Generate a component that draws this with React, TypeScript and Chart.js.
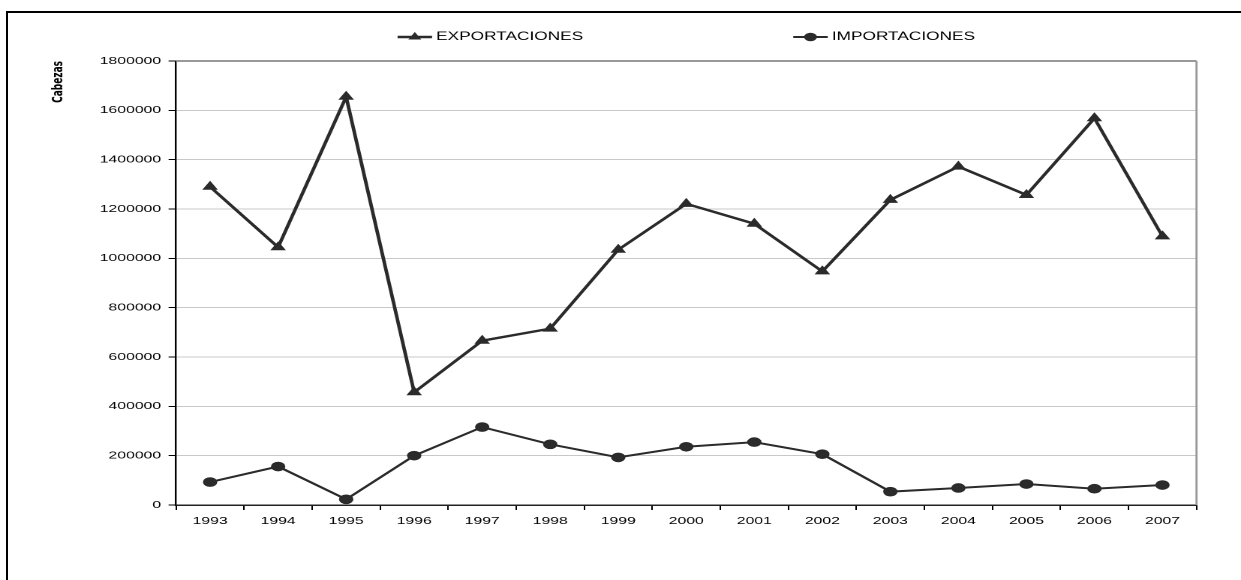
import React, { useEffect, useRef } from 'react';
import { Chart, registerables } from 'chart.js';

Chart.register(...registerables);

// ---------- data ----------
const years = ['1993', '1994', '1995', '1996', '1997', '1998', '1999', '2000', '2001', '2002', '2003', '2004', '2005', '2006', '2007'];
const exportaciones = [1290000, 1045000, 1655000, 457000, 666000, 715000, 1035000, 1221000, 1140000, 947000, 1237000, 1372000, 1257000, 1568000, 1089000];
const importaciones = [93000, 156000, 23000, 200000, 316000, 246000, 193000, 236000, 255000, 206000, 54000, 69000, 85000, 66000, 81000];
const seriesLabels = ['EXPORTACIONES', 'IMPORTACIONES'];
const yAxisTitle = 'Cabezas';
const yMin = 0;
const yMax = 1800000;
const yStep = 200000;

// ---------- geometry (the reference is stretched horizontally ~1.5x) ----------
const PAGE_W = 1241;
const PAGE_H = 580;
const STRETCH = 1.5;
const W = Math.round(PAGE_W / STRETCH); // logical canvas width
const H = PAGE_H;
const AREA_LEFT = 176 / STRETCH;
const AREA_RIGHT = 1196 / STRETCH;
const AREA_TOP = 61;
const AREA_BOTTOM = 505;
const X_AXIS_H = 30;

const LINE = '#2b2b2b';
const FONT = "'Liberation Sans', Arial, Helvetica, sans-serif";
const NARROW = "'Liberation Sans Narrow', 'Arial Narrow', 'DejaVu Sans Condensed', 'Liberation Sans', sans-serif";

function drawMarker(ctx: CanvasRenderingContext2D, style: string, x: number, y: number, r: number) {
  ctx.beginPath();
  if (style === 'triangle') {
    let rad = 0;
    ctx.moveTo(x + Math.sin(rad) * r, y - Math.cos(rad) * r);
    rad += (2 * Math.PI) / 3;
    ctx.lineTo(x + Math.sin(rad) * r, y - Math.cos(rad) * r);
    rad += (2 * Math.PI) / 3;
    ctx.lineTo(x + Math.sin(rad) * r, y - Math.cos(rad) * r);
    ctx.closePath();
  } else {
    ctx.arc(x, y, r, 0, Math.PI * 2);
  }
  ctx.fill();
}

const framePlugin = {
  id: 'frame',
  afterDatasetsDraw(chart: any) {
    const { ctx, chartArea: a } = chart;
    ctx.save();
    ctx.strokeStyle = '#999999';
    ctx.lineWidth = 2;
    ctx.beginPath();
    ctx.moveTo(a.left, a.top);
    ctx.lineTo(a.right, a.top);
    ctx.stroke();
    ctx.lineWidth = 1.4;
    ctx.beginPath();
    ctx.moveTo(a.right, a.top);
    ctx.lineTo(a.right, a.bottom);
    ctx.stroke();
    ctx.restore();
  },
};

const legendPlugin = {
  id: 'lineLegend',
  afterDraw(chart: any) {
    const { ctx, chartArea: a } = chart;
    const symbolW = 23;
    const textGap = 2.7;
    const gap = 140;
    const y = 37;
    ctx.save();
    ctx.font = `11.5px ${FONT}`;
    ctx.textBaseline = 'middle';
    ctx.textAlign = 'left';
    const items = chart.data.datasets.map((ds: any) => ({
      ds,
      w: symbolW + textGap + ctx.measureText(ds.label).width,
    }));
    const total = items.reduce((s: number, it: any) => s + it.w, 0) + gap * (items.length - 1);
    let x = (a.left + a.right) / 2 - total / 2;
    items.forEach((it: any) => {
      const ds = it.ds;
      ctx.strokeStyle = ds.borderColor;
      ctx.lineWidth = ds.borderWidth;
      ctx.beginPath();
      ctx.moveTo(x, y);
      ctx.lineTo(x + symbolW, y);
      ctx.stroke();
      ctx.fillStyle = ds.pointBackgroundColor;
      drawMarker(ctx, ds.pointStyle, x + symbolW / 2, y, ds.pointRadius);
      ctx.fillStyle = '#000000';
      ctx.fillText(ds.label, x + symbolW + textGap, y);
      x += it.w + gap;
    });
    ctx.restore();
  },
};

export default function App() {
  const ref = useRef<HTMLCanvasElement | null>(null);

  useEffect(() => {
    if (!ref.current) return;
    const chart = new Chart(ref.current, {
      type: 'line',
      data: {
        labels: years,
        datasets: [
          {
            label: seriesLabels[0],
            data: exportaciones,
            borderColor: LINE,
            backgroundColor: LINE,
            borderWidth: 2.4,
            pointStyle: 'triangle',
            pointRadius: 5,
            pointBackgroundColor: LINE,
            pointBorderColor: LINE,
            pointBorderWidth: 1,
            tension: 0,
          },
          {
            label: seriesLabels[1],
            data: importaciones,
            borderColor: LINE,
            backgroundColor: LINE,
            borderWidth: 2,
            pointStyle: 'circle',
            pointRadius: 4.3,
            pointBackgroundColor: LINE,
            pointBorderColor: LINE,
            pointBorderWidth: 1,
            tension: 0,
          },
        ],
      },
      options: {
        responsive: false,
        animation: false,
        devicePixelRatio: 2,
        events: [],
        layout: {
          padding: {
            left: 0,
            right: W - AREA_RIGHT,
            top: AREA_TOP,
            bottom: H - AREA_BOTTOM - X_AXIS_H,
          },
        },
        plugins: {
          legend: { display: false },
          tooltip: { enabled: false },
          title: { display: false },
        },
        scales: {
          x: {
            type: 'category',
            offset: true,
            afterFit: (scale: any) => {
              scale.height = X_AXIS_H;
            },
            grid: {
              display: true,
              offset: true,
              drawOnChartArea: false,
              drawTicks: true,
              tickLength: 5,
              tickColor: '#000000',
              tickWidth: 1,
            },
            border: { display: true, color: '#222222', width: 1.5 },
            ticks: {
              color: '#000000',
              font: { family: FONT, size: 10.5 },
              padding: 5,
              autoSkip: false,
              maxRotation: 0,
              minRotation: 0,
            },
          },
          y: {
            type: 'linear',
            min: yMin,
            max: yMax,
            afterFit: (scale: any) => {
              scale.width = AREA_LEFT;
            },
            grid: {
              color: '#c8c8c8',
              lineWidth: 1,
              drawTicks: true,
              tickLength: 5,
              tickColor: '#000000',
              tickWidth: 1,
            },
            border: { display: true, color: '#000000', width: 1.2 },
            ticks: {
              stepSize: yStep,
              color: '#000000',
              font: { family: FONT, size: 10.5 },
              padding: 5,
              callback: (v: any) => String(v),
            },
            title: {
              display: true,
              text: yAxisTitle,
              align: 'end',
              color: '#000000',
              font: { family: NARROW, size: 10, weight: 'bold' },
              padding: { top: 33, bottom: 0 },
            },
          },
        },
      },
      plugins: [framePlugin, legendPlugin],
    } as any);
    return () => chart.destroy();
  }, []);

  return (
    <div style={{ position: 'absolute', left: 0, top: 0, width: PAGE_W, height: PAGE_H, overflow: 'hidden', background: '#ffffff' }}>
      <canvas
        ref={ref}
        width={W}
        height={H}
        style={{ position: 'absolute', left: 0, top: 0, width: `${PAGE_W}px`, height: `${PAGE_H}px`, display: 'block' }}
      />
      <div
        style={{
          position: 'absolute',
          left: 6,
          top: 11,
          width: PAGE_W - 6,
          height: PAGE_H - 11,
          borderLeft: '2px solid #000',
          borderTop: '2px solid #000',
          boxSizing: 'border-box',
          pointerEvents: 'none',
        }}
      />
    </div>
  );
}
